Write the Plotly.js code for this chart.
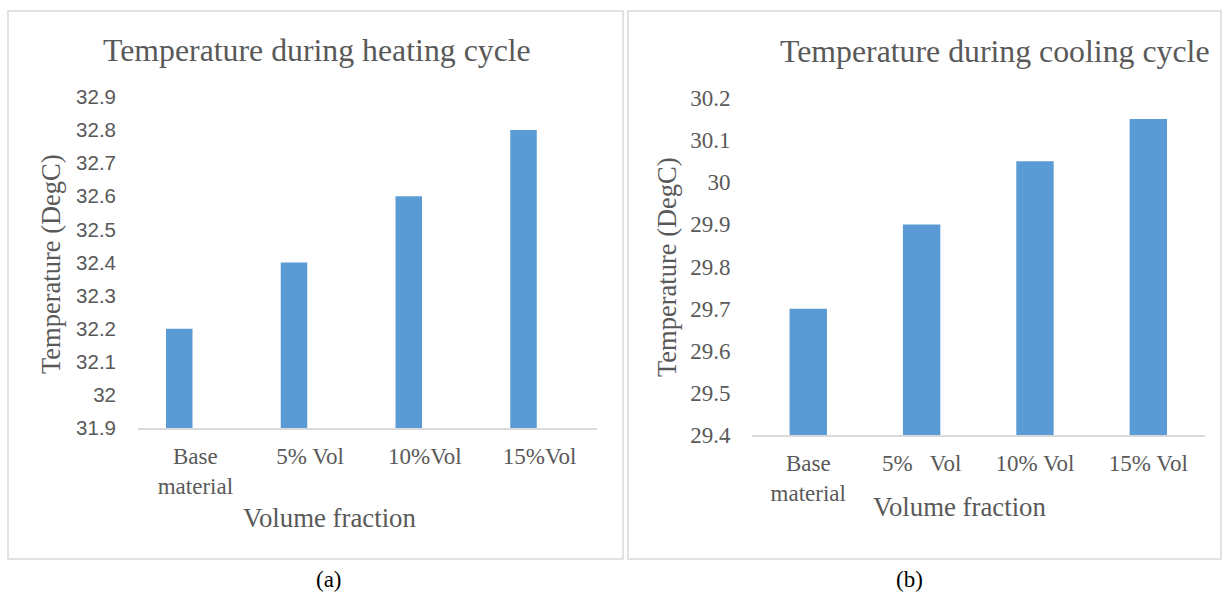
<!DOCTYPE html>
<html>
<head>
<meta charset="utf-8">
<script src="https://cdn.plot.ly/plotly-3.0.1.min.js"></script>
<style>html,body{margin:0;padding:0;background:#fff;}#chart{width:1224px;height:596px;}</style>
</head>
<body>
<div id="chart"></div>
<script>
// ---- data ----
const categoriesHeating = ["Base<br>material", "5% Vol", "10%Vol", "15%Vol"];
const heatingTemps = [32.2, 32.4, 32.6, 32.8];
const categoriesCooling = ["Base<br>material", "5%\u00a0\u00a0\u00a0Vol", "10% Vol", "15% Vol"];
const coolingTemps = [29.7, 29.9, 30.05, 30.15];
const heatingTicks = [31.9, 32, 32.1, 32.2, 32.3, 32.4, 32.5, 32.6, 32.7, 32.8, 32.9];
const coolingTicks = [29.4, 29.5, 29.6, 29.7, 29.8, 29.9, 30, 30.1, 30.2];
const titleHeating = "Temperature during heating cycle";
const titleCooling = "Temperature during cooling cycle";
const yTitle = "Temperature (DegC)";
const xTitle = "Volume fraction";

// ---- layout helpers ----
const W = 1224, H = 596;
const px = x => x / W;
const py = y => 1 - y / H;
const SERIF = "Liberation Serif, Times New Roman, serif";
const SANS = "Liberation Sans, Arial, sans-serif";
const GREY = "#595959";
const BAR = "#5b9bd5";
const LINE = "#d9d9d9";

const traces = [
  {type: "bar", x: categoriesHeating, y: heatingTemps, xaxis: "x", yaxis: "y",
   marker: {color: BAR}, width: 0.231, offset: -0.256, hoverinfo: "none"},
  {type: "bar", x: categoriesCooling, y: coolingTemps, xaxis: "x2", yaxis: "y2",
   marker: {color: BAR}, width: 0.33, hoverinfo: "none"}
];

const layout = {
  width: W, height: H,
  margin: {l: 0, r: 0, t: 0, b: 0},
  paper_bgcolor: "#fff", plot_bgcolor: "#fff",
  showlegend: false,
  xaxis: {domain: [px(138), px(597)], anchor: "y", type: "category",
    showline: true, linecolor: LINE, linewidth: 1.5, showgrid: false, zeroline: false,
    ticks: "", tickfont: {family: SERIF, size: 23, color: GREY}, ticklabelstandoff: 7, fixedrange: true},
  yaxis: {domain: [py(428), py(97)], anchor: "x", range: [31.9, 32.9],
    tickvals: heatingTicks, ticktext: heatingTicks.map(v => String(v)),
    showline: false, showgrid: false, zeroline: false, ticks: "",
    tickfont: {family: SANS, size: 20.5, color: GREY}, ticklabelstandoff: 21, fixedrange: true},
  xaxis2: {domain: [px(751.6), px(1205)], anchor: "y2", type: "category",
    showline: true, linecolor: LINE, linewidth: 1.5, showgrid: false, zeroline: false,
    ticks: "", tickfont: {family: SERIF, size: 23, color: GREY}, ticklabelstandoff: 7, fixedrange: true},
  yaxis2: {domain: [py(435), py(98)], anchor: "x2", range: [29.4, 30.2],
    tickvals: coolingTicks, ticktext: coolingTicks.map(v => String(v)),
    showline: false, showgrid: false, zeroline: false, ticks: "",
    tickfont: {family: SERIF, size: 23, color: GREY}, ticklabelstandoff: 20, fixedrange: true},
  shapes: [
    {type: "rect", xref: "paper", yref: "paper", x0: px(8), x1: px(623), y0: py(559), y1: py(11),
     line: {color: LINE, width: 1.5}},
    {type: "rect", xref: "paper", yref: "paper", x0: px(628), x1: px(1221), y0: py(559), y1: py(11),
     line: {color: LINE, width: 1.5}}
  ],
  annotations: [
    {text: titleHeating, xref: "paper", yref: "paper", x: px(316.5), y: py(50), showarrow: false,
     xanchor: "center", yanchor: "middle", font: {family: SERIF, size: 31.8, color: GREY}},
    {text: titleCooling, xref: "paper", yref: "paper", x: px(994.5), y: py(52), showarrow: false,
     xanchor: "center", yanchor: "middle", font: {family: SERIF, size: 31.8, color: GREY}},
    {text: yTitle, xref: "paper", yref: "paper", x: px(51), y: py(264), showarrow: false, textangle: -90,
     xanchor: "center", yanchor: "middle", font: {family: SERIF, size: 26.5, color: GREY}},
    {text: yTitle, xref: "paper", yref: "paper", x: px(667), y: py(267), showarrow: false, textangle: -90,
     xanchor: "center", yanchor: "middle", font: {family: SERIF, size: 26.5, color: GREY}},
    {text: xTitle, xref: "paper", yref: "paper", x: px(329), y: py(518), showarrow: false,
     xanchor: "center", yanchor: "middle", font: {family: SERIF, size: 26.8, color: GREY}},
    {text: xTitle, xref: "paper", yref: "paper", x: px(959), y: py(507), showarrow: false,
     xanchor: "center", yanchor: "middle", font: {family: SERIF, size: 26.8, color: GREY}},
    {text: "(a)", xref: "paper", yref: "paper", x: px(329), y: py(579), showarrow: false,
     xanchor: "center", yanchor: "middle", font: {family: SERIF, size: 23, color: "#000"}},
    {text: "(b)", xref: "paper", yref: "paper", x: px(909), y: py(579), showarrow: false,
     xanchor: "center", yanchor: "middle", font: {family: SERIF, size: 23, color: "#000"}}
  ]
};

Plotly.newPlot("chart", traces, layout, {displayModeBar: false, staticPlot: true});
</script>
</body>
</html>
